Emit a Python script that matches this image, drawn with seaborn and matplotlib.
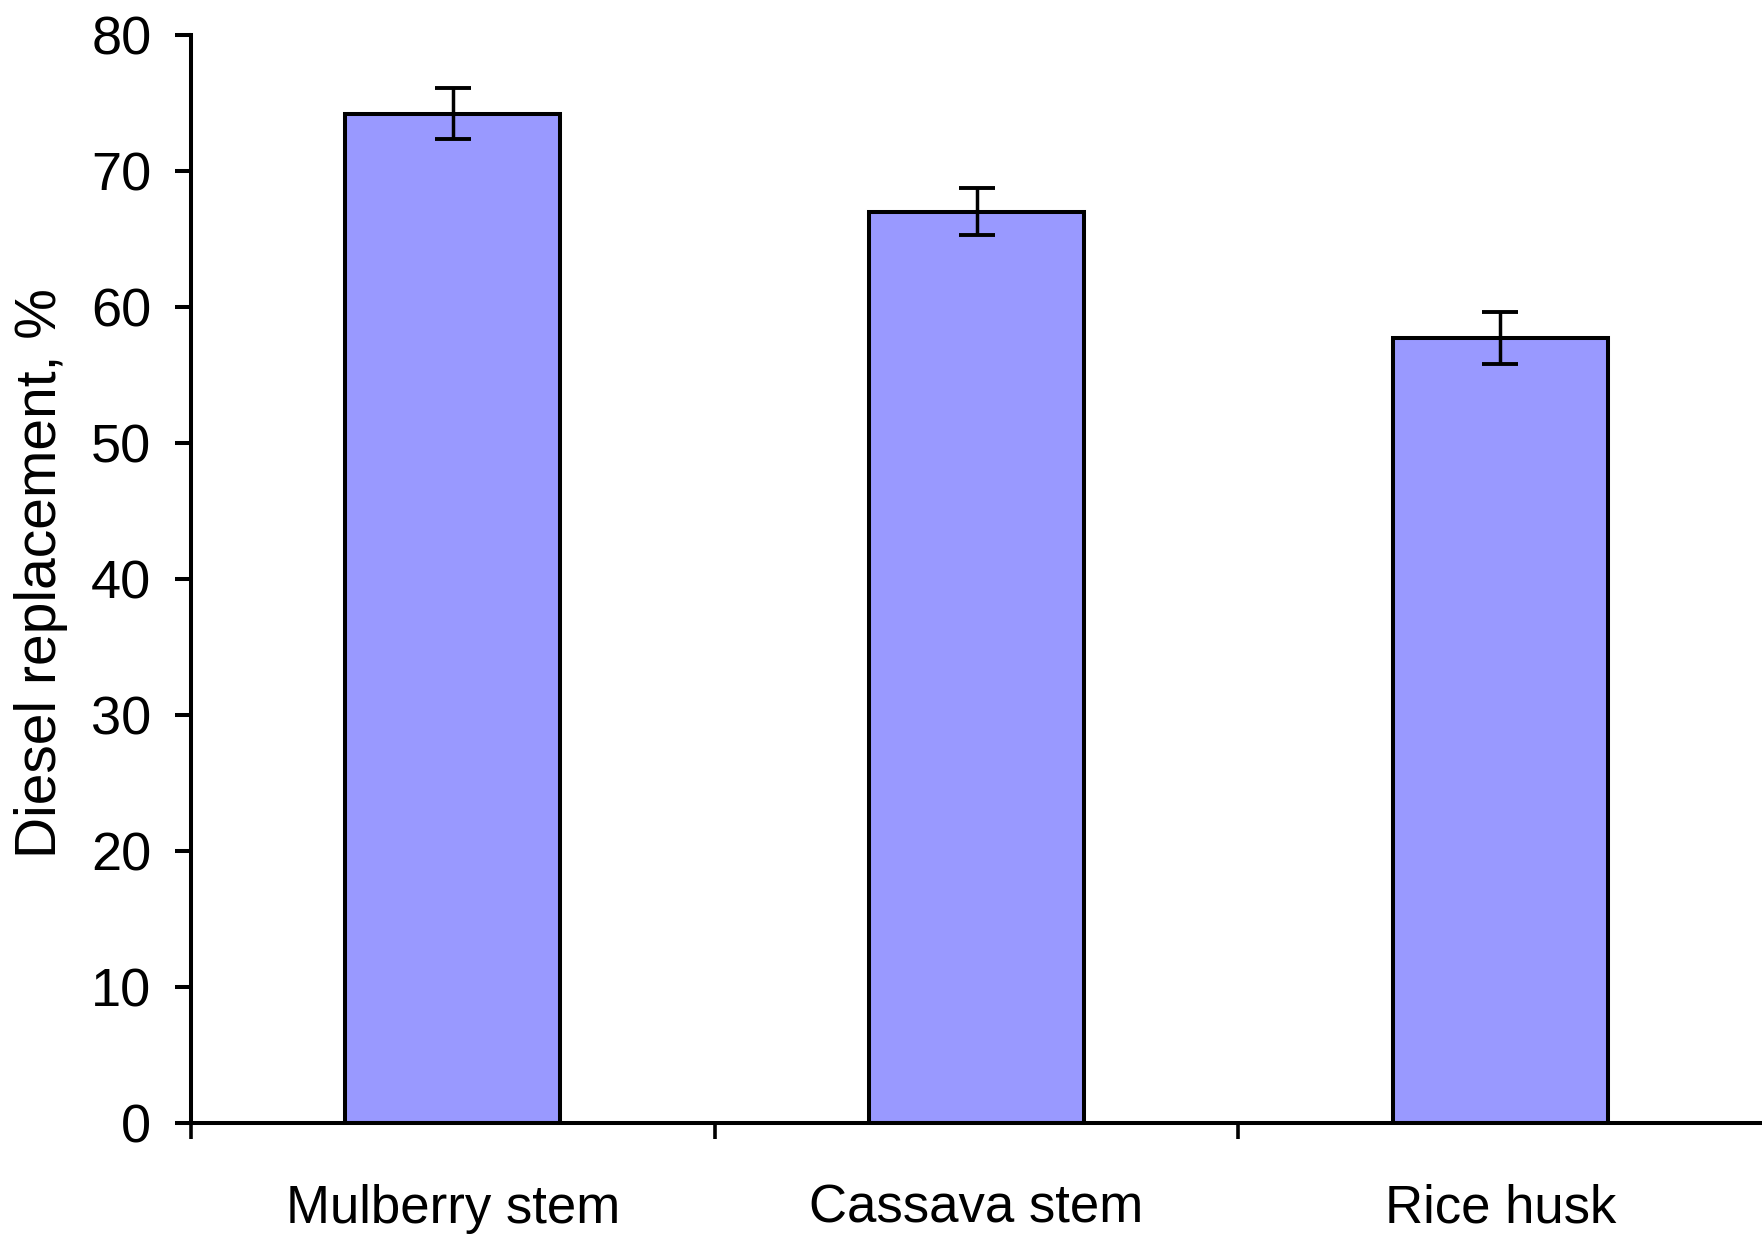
import matplotlib
matplotlib.use("Agg")
import matplotlib.pyplot as plt
import pandas as pd
import seaborn as sns
from matplotlib.ticker import FixedLocator

# values
feedstocks = ["Mulberry stem", "Cassava stem", "Rice husk"]
replacement = [74.2, 67.0, 57.7]
replacement_err = [1.9, 1.75, 1.9]

df = pd.DataFrame({"feedstock": feedstocks, "replacement": replacement})

sns.set_theme(style="white")
plt.rcParams["font.family"] = ["Liberation Sans", "DejaVu Sans"]
plt.rcParams.update({"text.color": "black", "axes.labelcolor": "black",
                     "xtick.color": "black", "ytick.color": "black"})

fig = plt.figure(figsize=(17.62, 12.38), dpi=100)
ax = fig.add_axes([0.1084, 0.0932, 0.8916, 0.8787])

sns.barplot(data=df, x="feedstock", y="replacement", color="#9999FF",
            width=0.41, edgecolor="black", linewidth=2.9, saturation=1,
            errorbar=None, ax=ax)
ax.errorbar(range(len(feedstocks)), replacement, yerr=replacement_err,
            fmt="none", ecolor="black", elinewidth=2.5, capsize=13, capthick=2.8)

ax.set_xlim(-0.5, 2.5)
ax.set_ylim(0, 80)
ax.set_yticks(range(0, 81, 10))
ax.set_xlabel("")
ax.set_ylabel("Diesel replacement, %", fontsize=41)
ax.yaxis.set_label_coords(-0.078, 0.505)

for side in ("top", "right"):
    ax.spines[side].set_visible(False)
for side in ("left", "bottom"):
    ax.spines[side].set_linewidth(2.9)
    ax.spines[side].set_color("black")

ax.xaxis.set_minor_locator(FixedLocator([-0.5, 0.5, 1.5]))
ax.tick_params(axis="x", which="major", length=0, pad=44, labelsize=38)
ax.tick_params(axis="x", which="minor", direction="out", length=11.5, width=2.6, bottom=True)
ax.tick_params(axis="y", direction="out", length=11.5, width=2.9, left=True,
               labelsize=39, pad=17)

fig.savefig("out.png", dpi=100)
